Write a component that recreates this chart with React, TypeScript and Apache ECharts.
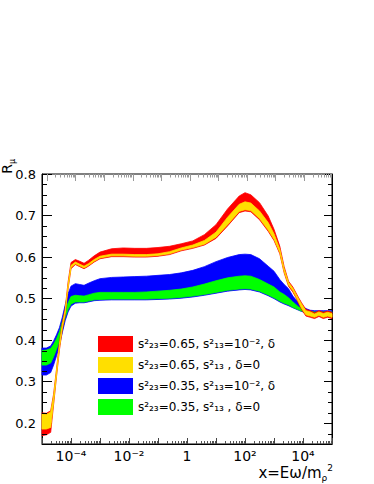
import React, { useEffect, useRef } from "react";
import * as echarts from "echarts";

// log10(x) sample positions
const logX = [-5, -4.85, -4.7, -4.6, -4.5, -4.4, -4.3, -4.2, -4.1, -4.0, -3.85, -3.7, -3.55, -3.4, -3.2, -3.0, -2.6, -2.2, -1.8, -1.4, -1.0, -0.6, -0.2, 0.2, 0.6, 1.0, 1.4, 1.8, 2.0, 2.2, 2.5, 2.8, 3.0, 3.2, 3.35, 3.5, 3.65, 3.75, 3.85, 3.95, 4.1, 4.25, 4.4, 4.55, 4.7, 4.85, 5.0];

const redLo = [0.170, 0.172, 0.178, 0.245, 0.312, 0.376, 0.425, 0.460, 0.524, 0.572, 0.582, 0.577, 0.572, 0.578, 0.588, 0.596, 0.601, 0.601, 0.600, 0.600, 0.602, 0.606, 0.615, 0.621, 0.629, 0.645, 0.675, 0.707, 0.711, 0.709, 0.690, 0.662, 0.640, 0.608, 0.562, 0.530, 0.516, 0.503, 0.488, 0.474, 0.458, 0.455, 0.452, 0.457, 0.452, 0.455, 0.452];
const redHi = [0.225, 0.224, 0.230, 0.270, 0.330, 0.394, 0.441, 0.476, 0.540, 0.587, 0.594, 0.590, 0.585, 0.592, 0.603, 0.612, 0.620, 0.622, 0.621, 0.621, 0.623, 0.626, 0.632, 0.639, 0.654, 0.678, 0.716, 0.747, 0.755, 0.750, 0.731, 0.699, 0.667, 0.626, 0.577, 0.542, 0.528, 0.515, 0.502, 0.490, 0.474, 0.471, 0.466, 0.471, 0.467, 0.470, 0.467];
const yellowLo = [0.186, 0.186, 0.190, 0.250, 0.316, 0.380, 0.429, 0.464, 0.528, 0.575, 0.584, 0.579, 0.574, 0.580, 0.590, 0.598, 0.603, 0.603, 0.602, 0.602, 0.604, 0.608, 0.617, 0.623, 0.631, 0.648, 0.678, 0.710, 0.714, 0.712, 0.693, 0.665, 0.643, 0.611, 0.565, 0.533, 0.519, 0.506, 0.491, 0.477, 0.461, 0.458, 0.455, 0.460, 0.455, 0.458, 0.455];
const yellowHi = [0.222, 0.221, 0.227, 0.265, 0.326, 0.390, 0.437, 0.472, 0.534, 0.580, 0.588, 0.583, 0.578, 0.584, 0.594, 0.602, 0.607, 0.607, 0.606, 0.606, 0.608, 0.613, 0.622, 0.629, 0.640, 0.660, 0.696, 0.727, 0.733, 0.730, 0.711, 0.683, 0.656, 0.619, 0.572, 0.539, 0.525, 0.512, 0.499, 0.487, 0.471, 0.468, 0.463, 0.468, 0.464, 0.467, 0.464];
const blueLo = [0.316, 0.316, 0.322, 0.340, 0.362, 0.387, 0.418, 0.447, 0.468, 0.482, 0.489, 0.490, 0.490, 0.492, 0.495, 0.496, 0.497, 0.497, 0.497, 0.497, 0.498, 0.499, 0.501, 0.504, 0.508, 0.513, 0.518, 0.521, 0.522, 0.521, 0.516, 0.507, 0.500, 0.492, 0.487, 0.483, 0.478, 0.475, 0.472, 0.469, 0.466, 0.465, 0.465, 0.465, 0.465, 0.465, 0.465];
const blueHi = [0.381, 0.381, 0.386, 0.398, 0.413, 0.430, 0.455, 0.485, 0.512, 0.530, 0.536, 0.534, 0.532, 0.537, 0.543, 0.548, 0.551, 0.552, 0.553, 0.554, 0.556, 0.558, 0.562, 0.568, 0.577, 0.589, 0.599, 0.606, 0.607, 0.606, 0.596, 0.578, 0.566, 0.546, 0.534, 0.524, 0.506, 0.498, 0.490, 0.484, 0.476, 0.472, 0.471, 0.471, 0.471, 0.471, 0.471];
const greenLo = [0.340, 0.340, 0.345, 0.360, 0.378, 0.398, 0.428, 0.455, 0.474, 0.487, 0.492, 0.492, 0.492, 0.494, 0.497, 0.498, 0.499, 0.499, 0.499, 0.499, 0.500, 0.501, 0.503, 0.506, 0.510, 0.515, 0.520, 0.523, 0.524, 0.523, 0.518, 0.509, 0.502, 0.494, 0.489, 0.485, 0.479, 0.476, 0.473, 0.470, 0.467, 0.466, 0.466, 0.466, 0.466, 0.466, 0.466];
const greenHi = [0.375, 0.376, 0.380, 0.390, 0.403, 0.420, 0.444, 0.470, 0.490, 0.505, 0.508, 0.507, 0.506, 0.509, 0.513, 0.515, 0.515, 0.515, 0.515, 0.516, 0.518, 0.520, 0.523, 0.528, 0.535, 0.543, 0.550, 0.554, 0.555, 0.554, 0.546, 0.535, 0.528, 0.516, 0.510, 0.502, 0.492, 0.486, 0.480, 0.476, 0.471, 0.469, 0.468, 0.468, 0.468, 0.468, 0.468];

const bandNames = [
  "s²₂₃=0.65, s²₁₃=10⁻², δ",
  "s²₂₃=0.65, s²₁₃ , δ=0",
  "s²₂₃=0.35, s²₁₃=10⁻², δ",
  "s²₂₃=0.35, s²₁₃ , δ=0",
];
const bandColors = ["#ff0000", "#ffdf00", "#0000ff", "#00ff00"];

const xTickValues = [-4, -2, 0, 2, 4];
const xTickTexts = ["10⁻⁴", "10⁻²", "1", "10²", "10⁴"];
const yTickValues = [0.2, 0.3, 0.4, 0.5, 0.6, 0.7, 0.8];
const yTickTexts = ["0.2", "0.3", "0.4", "0.5", "0.6", "0.7", "0.8"];

const X_MIN = -5, X_MAX = 5, Y_MIN = 0.15, Y_MAX = 0.8;
const TOP_MIN = -5.17, TOP_MAX = 4.98;

function bandSeries(name: string, color: string, lo: number[], hi: number[]) {
  return {
    type: "custom",
    name,
    coordinateSystem: "cartesian2d",
    itemStyle: { color },
    silent: true,
    data: logX.map((x, i) => [x, lo[i], hi[i]]),
    encode: { x: 0, y: [1, 2] },
    renderItem: (params: any, api: any) => {
      if (params.dataIndex !== 0) return null;
      const upper = logX.map((x, i) => api.coord([x, hi[i]]));
      const lower = logX.map((x, i) => api.coord([x, lo[i]])).reverse();
      return {
        type: "polygon",
        shape: { points: upper.concat(lower) },
        style: { fill: color, stroke: color, lineWidth: 0.8 },
      };
    },
  };
}

function tickSeries(pts: number[][], xIdx: number, yIdx: number, dx: number, dy: number, color: string) {
  return {
    type: "custom",
    coordinateSystem: "cartesian2d",
    xAxisIndex: xIdx,
    yAxisIndex: yIdx,
    silent: true,
    z: 5,
    data: pts,
    encode: { x: 0, y: 1 },
    renderItem: (_p: any, api: any) => {
      const p = api.coord([api.value(0), api.value(1)]);
      const x = dx === 0 ? Math.round(p[0]) + 0.5 : p[0];
      const y = dy === 0 ? Math.round(p[1]) + 0.5 : p[1];
      return {
        type: "line",
        shape: { x1: x, y1: y, x2: x + dx, y2: y + dy },
        style: { stroke: color, lineWidth: 1 },
      };
    },
  };
}

function logMinor(lo: number, hi: number) {
  const out: number[] = [];
  for (let n = Math.floor(lo); n < hi; n++) {
    for (let k = 2; k <= 9; k++) {
      const v = n + Math.log10(k);
      if (v > lo && v < hi) out.push(v);
    }
  }
  return out;
}
function decades(lo: number, hi: number) {
  const out: number[] = [];
  for (let n = Math.ceil(lo); n <= hi; n++) out.push(n);
  return out;
}
function yMinor() {
  const out: number[] = [];
  for (let k = 7; k <= 31; k++) if (k % 4 !== 0) out.push(k * 0.025);
  return out;
}

export default function App() {
  const ref = useRef<HTMLDivElement>(null);
  useEffect(() => {
    if (!ref.current) return;
    const chart = echarts.init(ref.current, null, { renderer: "svg" });
    const font = "DejaVu Sans";
    const option: any = {
      animation: false,
      backgroundColor: "#ffffff",
      color: [bandColors[2], bandColors[3], bandColors[0], bandColors[1]],
      grid: { left: 42, right: 42, top: 174, bottom: 40, show: true, borderColor: "#000", borderWidth: 1, backgroundColor: "transparent" },
      legend: {
        data: bandNames,
        orient: "vertical",
        left: 98,
        top: 336,
        padding: 0,
        itemWidth: 35,
        itemHeight: 16,
        itemGap: 5,
        icon: "rect",
        selectedMode: false,
        textStyle: { fontFamily: font, fontSize: 12, color: "#000" },
      },
      xAxis: [
        {
          type: "value",
          min: X_MIN,
          max: X_MAX,
          interval: 1,
          position: "bottom",
          axisLine: { show: true, onZero: false, lineStyle: { color: "#000" } },
          axisTick: { show: true, inside: true, length: 6, lineStyle: { color: "#444" } },
          axisLabel: {
            margin: 5,
            fontFamily: font,
            fontSize: 14,
            color: "#000",
            formatter: (v: number) => {
              const i = xTickValues.findIndex((t) => Math.abs(t - v) < 1e-9);
              return i >= 0 ? xTickTexts[i] : "";
            },
          },
          splitLine: { show: false },
        },
        {
          type: "value",
          min: TOP_MIN,
          max: TOP_MAX,
          position: "top",
          axisLine: { show: false, onZero: false },
          axisTick: { show: false },
          axisLabel: { show: false },
          splitLine: { show: false },
        },
      ],
      yAxis: [
        {
          type: "value",
          min: Y_MIN,
          max: Y_MAX,
          position: "left",
          axisLine: { show: true, onZero: false, lineStyle: { color: "#000" } },
          axisTick: { show: true, inside: true, length: 10, lineStyle: { color: "#000" } },
          axisLabel: {
            margin: 6,
            fontFamily: font,
            fontSize: 13,
            color: "#000",
            showMinLabel: false,
            formatter: (v: number) => {
              const i = yTickValues.findIndex((t) => Math.abs(t - v) < 1e-9);
              return i >= 0 ? yTickTexts[i] : "";
            },
          },
          splitLine: { show: false },
        },
        {
          type: "value",
          min: Y_MIN,
          max: Y_MAX,
          position: "right",
          axisLine: { show: true, onZero: false, lineStyle: { color: "#000" } },
          axisTick: { show: true, inside: true, length: 8, lineStyle: { color: "#000" } },
          axisLabel: { show: false },
          splitLine: { show: false },
        },
      ],
      graphic: [
        {
          type: "text",
          right: 41,
          top: 463,
          style: {
            text: "x=Eω/m{sb|ρ}{sp|2}",
            fontFamily: font,
            fontSize: 15,
            fill: "#000",
            rich: {
              sb: { fontFamily: font, fontSize: 9, fill: "#000", verticalAlign: "bottom", lineHeight: 19 },
              sp: { fontFamily: font, fontSize: 9, fill: "#000", verticalAlign: "top", lineHeight: 19 },
            },
          },
        },
        {
          type: "text",
          x: 16,
          y: 159,
          rotation: Math.PI / 2,
          style: {
            text: "R{sb|μ}",
            fontFamily: font,
            fontSize: 14,
            fill: "#000",
            align: "right",
            verticalAlign: "bottom",
            rich: {
              sb: { fontFamily: font, fontSize: 8, fill: "#000", verticalAlign: "bottom", lineHeight: 18 },
            },
          },
        },
      ],
      series: [
        bandSeries(bandNames[2], bandColors[2], blueLo, blueHi),
        bandSeries(bandNames[3], bandColors[3], greenLo, greenHi),
        bandSeries(bandNames[0], bandColors[0], redLo, redHi),
        bandSeries(bandNames[1], bandColors[1], yellowLo, yellowHi),
        // bottom minor (log) ticks
        tickSeries(logMinor(X_MIN, X_MAX).map((v) => [v, Y_MIN]), 0, 0, 0, -3, "#555"),
        // top ticks (secondary axis)
        tickSeries(decades(TOP_MIN, TOP_MAX).map((v) => [v, Y_MAX]), 1, 0, 0, 7, "#999"),
        tickSeries(logMinor(-5, TOP_MAX).map((v) => [v, Y_MAX]), 1, 0, 0, 3.5, "#999"),
        // y minor ticks
        tickSeries(yMinor().map((v) => [X_MIN, v]), 0, 0, 5, 0, "#000"),
        tickSeries(yMinor().map((v) => [X_MAX, v]), 0, 0, -4, 0, "#000"),
      ],
    };
    chart.setOption(option);
    return () => chart.dispose();
  }, []);
  return <div ref={ref} style={{ position: "fixed", left: 0, top: 0, width: 374, height: 484 }} />;
}
